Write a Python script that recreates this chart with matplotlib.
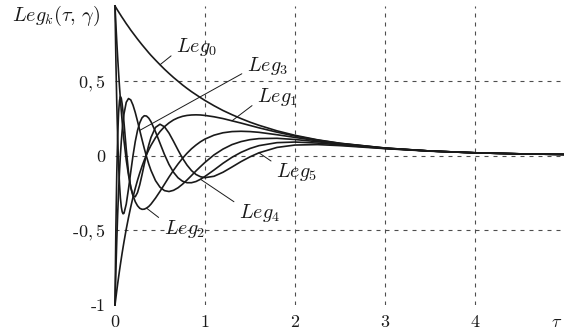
import matplotlib
matplotlib.use('Agg')
import matplotlib.pyplot as plt

plt.rcParams['mathtext.fontset'] = 'cm'
plt.rcParams['font.family'] = 'cmr10'
plt.rcParams['axes.formatter.use_mathtext'] = True

# exponential Legendre functions Leg_k(tau, gamma), gamma = 1
tau = [0, 0.01, 0.02, 0.03, 0.04, 0.05, 0.06, 0.07, 0.08, 0.09, 0.1,
       0.125, 0.15, 0.175, 0.2, 0.225, 0.25, 0.275, 0.3, 0.325, 0.35, 0.375, 0.4,
       0.45, 0.5, 0.55, 0.6, 0.65, 0.7, 0.75, 0.8, 0.85, 0.9, 0.95, 1.0,
       1.1, 1.2, 1.3, 1.4, 1.5, 1.6, 1.8, 2.0, 2.25, 2.5,
       3.0, 3.5, 4.0, 4.5, 5.0]
leg0 = [1, 0.990, 0.980, 0.970, 0.961, 0.951, 0.942, 0.932, 0.923, 0.914, 0.905,
        0.882, 0.861, 0.839, 0.819, 0.799, 0.779, 0.760, 0.741, 0.723, 0.705, 0.687, 0.670,
        0.638, 0.607, 0.577, 0.549, 0.522, 0.497, 0.472, 0.449, 0.427, 0.407, 0.387, 0.368,
        0.333, 0.301, 0.273, 0.247, 0.223, 0.202, 0.165, 0.135, 0.105, 0.082,
        0.050, 0.030, 0.018, 0.011, 0.007]
leg1 = [-1, -0.951, -0.903, -0.857, -0.813, -0.770, -0.729, -0.689, -0.650, -0.613, -0.577,
        -0.492, -0.415, -0.344, -0.279, -0.220, -0.166, -0.117, -0.072, -0.032, 0.005, 0.038, 0.068,
        0.119, 0.160, 0.193, 0.218, 0.238, 0.252, 0.262, 0.268, 0.271, 0.272, 0.271, 0.268,
        0.259, 0.247, 0.232, 0.217, 0.201, 0.185, 0.156, 0.130, 0.103, 0.081,
        0.050, 0.030, 0.018, 0.011, 0.007]
leg2 = [1, 0.875, 0.759, 0.651, 0.552, 0.460, 0.375, 0.297, 0.225, 0.159, 0.099,
        -0.030, -0.131, -0.209, -0.267, -0.309, -0.336, -0.353, -0.360, -0.359, -0.352, -0.341, -0.325,
        -0.285, -0.240, -0.192, -0.144, -0.099, -0.057, -0.019, 0.015, 0.045, 0.070, 0.092, 0.110,
        0.136, 0.152, 0.160, 0.162, 0.160, 0.155, 0.139, 0.121, 0.098, 0.079,
        0.049, 0.030, 0.018, 0.011, 0.007]
leg3 = [-1, -0.766, -0.563, -0.387, -0.236, -0.107, 0.002, 0.094, 0.169, 0.230, 0.279,
        0.356, 0.381, 0.372, 0.337, 0.288, 0.230, 0.168, 0.107, 0.048, -0.007, -0.057, -0.100,
        -0.168, -0.212, -0.235, -0.241, -0.233, -0.216, -0.192, -0.164, -0.134, -0.103, -0.074, -0.046,
        0.004, 0.043, 0.073, 0.093, 0.106, 0.113, 0.115, 0.107, 0.092, 0.076,
        0.048, 0.030, 0.018, 0.011, 0.007]
leg4 = [1, 0.632, 0.339, 0.110, -0.064, -0.193, -0.284, -0.344, -0.377, -0.390, -0.386,
        -0.325, -0.223, -0.110, -0.001, 0.093, 0.167, 0.219, 0.252, 0.266, 0.264, 0.250, 0.226,
        0.159, 0.082, 0.006, -0.060, -0.112, -0.149, -0.172, -0.182, -0.182, -0.174, -0.159, -0.140,
        -0.097, -0.052, -0.012, 0.021, 0.047, 0.066, 0.086, 0.090, 0.083, 0.071,
        0.047, 0.030, 0.018, 0.011, 0.007]
leg5 = [-1, -0.479, -0.112, 0.134, 0.287, 0.367, 0.394, 0.382, 0.343, 0.286, 0.219,
        0.042, -0.112, -0.216, -0.269, -0.276, -0.248, -0.196, -0.130, -0.059, 0.009, 0.070, 0.121,
        0.188, 0.209, 0.192, 0.150, 0.095, 0.037, -0.018, -0.064, -0.101, -0.127, -0.142, -0.148,
        -0.139, -0.112, -0.077, -0.041, -0.009, 0.018, 0.054, 0.070, 0.073, 0.066,
        0.046, 0.029, 0.018, 0.011, 0.007]

x_ticks = [0, 1, 2, 3, 4]
x_tick_labels = ['0', '1', '2', '3', '4']
y_ticks = [-1, -0.5, 0, 0.5]
y_tick_labels = ['-1', '-$0,5$', '0', '$0,5$']

INK = '#1a1a1a'
GRID = '#4d4d4d'

# (curve, index of the point the leader touches, text position, leader anchor on text box)
labels = [
  (leg0, 24, (0.678, 0.689), (0, 0.3), r'$Leg_0$'),
  (leg3, 17, (1.467, 0.562), (0, 0.3), r'$Leg_3$'),
  (leg1, 37, (1.578, 0.355), (0, 0.3), r'$Leg_1$'),
  (leg4, 33, (1.378, -0.417), (0, 0.85), r'$Leg_4$'),
  (leg2, 20, (0.540, -0.525), (0, 0.85), r'$Leg_2$'),
  (leg5, 40, (1.790, -0.145), (0, 0.85), r'$Leg_5$'),
]


def draw(ax) -> None:
  for y in [0.5, 0, -0.5]:
    ax.axhline(y, color=GRID, lw=0.8, dashes=(3.6, 4.5), zorder=1)
  for x in [1, 2, 3, 4]:
    ax.axvline(x, color=GRID, lw=0.8, dashes=(3.6, 4.5), zorder=1)

  for series in [leg0, leg1, leg2, leg3, leg4, leg5]:
    ax.plot(tau, series, color=INK, lw=1.2, clip_on=False, zorder=3)

  for series, i, xytext, relpos, text in labels:
    ax.annotate(text, xy=(tau[i], series[i]), xytext=xytext,
                ha='left', va='baseline', fontsize=14.5, color=INK,
                arrowprops=dict(arrowstyle='-', color=INK, lw=0.7,
                                relpos=relpos, shrinkA=2, shrinkB=0))


def main() -> None:
  fig = plt.figure(figsize=(5.64, 3.32), dpi=100)
  ax = fig.add_axes([115 / 564, 27 / 332, 450 / 564, 299 / 332])
  ax.set_xlim(0, 5)
  ax.set_ylim(-1, 1)
  for side in ax.spines.values():
    side.set_visible(False)

  # tau sits in the tick-label row, just left of the right edge
  ax.set_xticks(x_ticks + [4.91])
  ax.set_xticklabels(x_tick_labels + [r'$\tau$'])
  ax.set_yticks(y_ticks)
  ax.set_yticklabels(y_tick_labels)
  ax.tick_params(axis='x', length=0, pad=7, labelsize=13, colors=INK)
  ax.tick_params(axis='y', length=0, pad=7, labelsize=13, colors=INK)

  draw(ax)

  fig.text(100 / 564, 1 - 21 / 332, r'$Leg_k(\tau,\,\gamma)$', ha='right',
           va='baseline', fontsize=14.5, color=INK)
  fig.savefig('out.png', dpi=100)


if __name__ == '__main__':
  main()
